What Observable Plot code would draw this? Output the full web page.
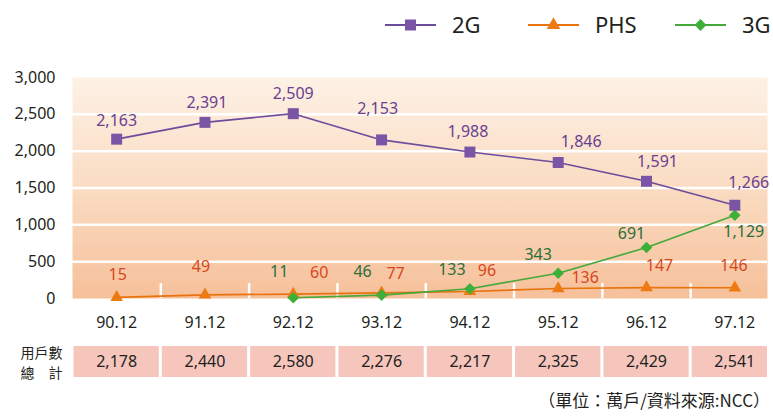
<!DOCTYPE html>
<html><head><meta charset="utf-8">
<script src="https://cdn.jsdelivr.net/npm/d3@7"></script>
<script src="https://cdn.jsdelivr.net/npm/@observablehq/plot@0.6"></script>
<style>
body{margin:0;background:#fff;font-family:"Noto Sans",sans-serif;}
#wrap{width:773px;height:417px;position:relative;overflow:hidden;background:#fff;}
#wrap > *{position:absolute;left:0;}
#source{right:3px;left:auto;top:387px;font-family:"Noto Sans CJK TC",sans-serif;font-size:17px;color:#231f20;white-space:nowrap;}
</style></head><body><div id="wrap"></div>
<script>
// ---- data ----
const categories = ["90.12","91.12","92.12","93.12","94.12","95.12","96.12","97.12"];
const values2G  = [2163,2391,2509,2153,1988,1846,1591,1266];
const valuesPHS = [15,49,60,77,96,136,147,146];
const values3G  = [null,null,11,46,133,343,691,1129];
const totals    = [2178,2440,2580,2276,2217,2325,2429,2541];
const yTicks    = [0,500,1000,1500,2000,2500,3000];
const gridTicks = [500,1000,1500,2000,2500];
const seriesNames = ["2G","PHS","3G"];
const rowLabel = "用戶數\n總　計";
const sourceNote = "（單位：萬戶/資料來源:NCC）";

// ---- label placement (layout, px offsets) ----
const off2G  = [[0,-18],[2,-19],[0,-20],[-4,-31],[-2,-20],[23,-21],[11,-19],[14,-22]];
const offPHS = [[1,-23],[-4,-28],[26,-21],[14,-19],[17,-21],[27,-11],[13,-22],[-1,-22]];
const off3G  = [null,null,[-14,-26],[-19,-23],[-18,-19],[-20,-18],[-15,-14],[9,17]];

const C = {
  line2G:"#6c4c9d", dot2G:"#7a55a6", lab2G:"#6b3f90",
  linePHS:"#e8730f", dotPHS:"#ee7a12", labPHS:"#d9461d",
  line3G:"#44a83a", dot3G:"#3cb038", lab3G:"#2c6e3a",
  text:"#231f20"
};
const fmt = d3.format(",");
const wrap = document.getElementById("wrap");
const font = "'Noto Sans', sans-serif";

const mk = (vals) => vals.map((v,i)=>({i, c:categories[i], v})).filter(d=>d.v!=null);
const rows2G = mk(values2G), rowsPHS = mk(valuesPHS), rows3G = mk(values3G);

// ---- legend ----
const leg = d3.create("svg").attr("width",773).attr("height",48).style("top","0px");
const legendItems = [
  {name:seriesNames[0], x:385, color:C.line2G, fill:C.dot2G, sym:d3.symbolSquare, size:121},
  {name:seriesNames[1], x:528, color:C.linePHS, fill:C.dotPHS, sym:d3.symbolTriangle, size:80},
  {name:seriesNames[2], x:675, color:C.line3G, fill:C.dot3G, sym:d3.symbolDiamond2, size:90}
];
for (const it of legendItems) {
  const g = leg.append("g").attr("transform",`translate(${it.x},25)`);
  g.append("line").attr("x1",0).attr("x2",51).attr("stroke",it.color).attr("stroke-width",2);
  g.append("path").attr("transform","translate(25.5,0)").attr("d",d3.symbol(it.sym,it.size)()).attr("fill",it.fill);
  g.append("text").attr("x",67).attr("y",8).attr("font-size",22).attr("font-family",font).attr("fill",C.text).text(it.name);
}
wrap.appendChild(leg.node());

// ---- main chart ----
const xOpts = {domain:[-0.5,7.37], label:null};
const gradient = () => {
  const defs = document.createElementNS("http://www.w3.org/2000/svg","defs");
  defs.innerHTML = `<linearGradient id="bgGrad" x1="0" y1="0" x2="0" y2="1">
    <stop offset="0" stop-color="#fdf1e5"/><stop offset="0.5" stop-color="#fadcc2"/><stop offset="1" stop-color="#f6c09a"/></linearGradient>`;
  return defs;
};
const labelMarks = (rows, offs, color) => rows.map(d => Plot.text([d], {
  x:"i", y:"v", text: r=>fmt(r.v), dx: offs[d.i][0], dy: offs[d.i][1],
  fill: color, fontSize:16, textAnchor:"middle"
}));

const chart = Plot.plot({
  width:773, height:292,
  marginLeft:72, marginRight:6, marginTop:29, marginBottom:42,
  style:{fontFamily:font, color:C.text, background:"transparent"},
  x: xOpts,
  y: {domain:[0,3000], label:null},
  marks:[
    gradient,
    Plot.frame({fill:"url(#bgGrad)", stroke:"none"}),
    Plot.ruleY(gridTicks, {stroke:"white", strokeWidth:2.5}),
    Plot.ruleX(d3.range(categories.length-1).map(i=>i+0.5), {y1:0, y2:0, insetTop:-15, stroke:"white", strokeWidth:2.5}),
    Plot.axisY(yTicks, {tickSize:0, tickPadding:17, tickFormat:fmt, fontSize:16, label:null}),
    Plot.axisX(d3.range(categories.length), {tickSize:0, tickPadding:18, tickFormat:i=>categories[i], fontSize:16, label:null}),
    Plot.line(rowsPHS, {x:"i", y:"v", stroke:C.linePHS, strokeWidth:1.6}),
    Plot.line(rows3G, {x:"i", y:"v", stroke:C.line3G, strokeWidth:1.6}),
    Plot.line(rows2G, {x:"i", y:"v", stroke:C.line2G, strokeWidth:1.6}),
    Plot.dot(rowsPHS, {x:"i", y:"v", symbol:"triangle", r:4.7, fill:C.dotPHS}),
    Plot.dot(rows3G, {x:"i", y:"v", symbol:"diamond2", r:5.2, fill:C.dot3G}),
    Plot.dot(rows2G, {x:"i", y:"v", symbol:"square", r:6.2, fill:C.dot2G}),
    ...labelMarks(rows2G, off2G, C.lab2G),
    ...labelMarks(rowsPHS, offPHS, C.labPHS),
    ...labelMarks(rows3G, off3G, C.lab3G)
  ]
});
chart.style.top = "48px";
wrap.appendChild(chart);

// ---- totals table ----
const tableRows = totals.map((v,i)=>({i, v}));
const table = Plot.plot({
  width:773, height:45,
  marginLeft:72, marginRight:6, marginTop:6, marginBottom:8,
  style:{fontFamily:font, color:C.text, background:"transparent"},
  x: {...xOpts, axis:null},
  marks:[
    Plot.rect(tableRows, {x1:d=>d.i-0.5, x2:d=>d.i+0.5, insetLeft:1.5, insetRight:1.5, fill:"#f6c6bd", clip:true}),
    Plot.text(tableRows, {x:"i", text:d=>fmt(d.v), fontSize:16, fill:C.text}),
    Plot.text([rowLabel], {x:-0.5, text:d=>d, textAnchor:"end", dx:-10, fontSize:14, lineHeight:1.4,
      fontFamily:"'Noto Sans CJK TC', sans-serif", fill:C.text, clip:false})
  ]
});
table.style.top = "340px";
wrap.appendChild(table);

// ---- source note ----
const src = document.createElement("div");
src.id = "source";
src.textContent = sourceNote;
wrap.appendChild(src);
</script></body></html>
